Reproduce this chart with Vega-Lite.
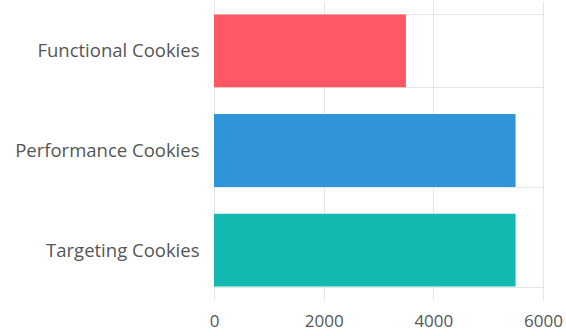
{
  "$schema": "https://vega.github.io/schema/vega-lite/v6.json",
  "autosize": "none",
  "width": 329,
  "height": 299,
  "padding": {"left": 214, "top": 1, "right": 23, "bottom": 36},
  "config": {"view": {"stroke": null}},
  "data": {"values": [
    {"category": "Functional Cookies", "value": 3500, "color": "#FF5864"},
    {"category": "Performance Cookies", "value": 5500, "color": "#2F95D8"},
    {"category": "Targeting Cookies", "value": 5500, "color": "#12B9B0"}
  ]},
  "mark": {"type": "bar"},
  "encoding": {
    "y": {
      "field": "category", "type": "nominal", "sort": null,
      "scale": {"paddingInner": 0.27, "paddingOuter": 0.135},
      "axis": {"title": null, "grid": true, "tickBand": "extent", "ticks": false, "domain": false,
        "gridColor": "#e6e6e6", "labelFont": "Open Sans", "labelFontSize": 18.5, "labelFontWeight": "normal", "labelColor": "#555555", "labelPadding": 15, "labelLimit": 300}
    },
    "x": {
      "field": "value", "type": "quantitative",
      "scale": {"domain": [0, 6000], "nice": false},
      "axis": {"title": null, "values": [0, 2000, 4000, 6000], "format": "d", "grid": true, "ticks": false, "domain": false,
        "gridColor": "#e6e6e6", "labelFont": "Open Sans", "labelFontSize": 17, "labelFontWeight": "normal", "labelColor": "#555555", "labelPadding": 13,
        "labelFlush": false}
    },
    "color": {"field": "color", "type": "nominal", "scale": null, "legend": null}
  }
}
